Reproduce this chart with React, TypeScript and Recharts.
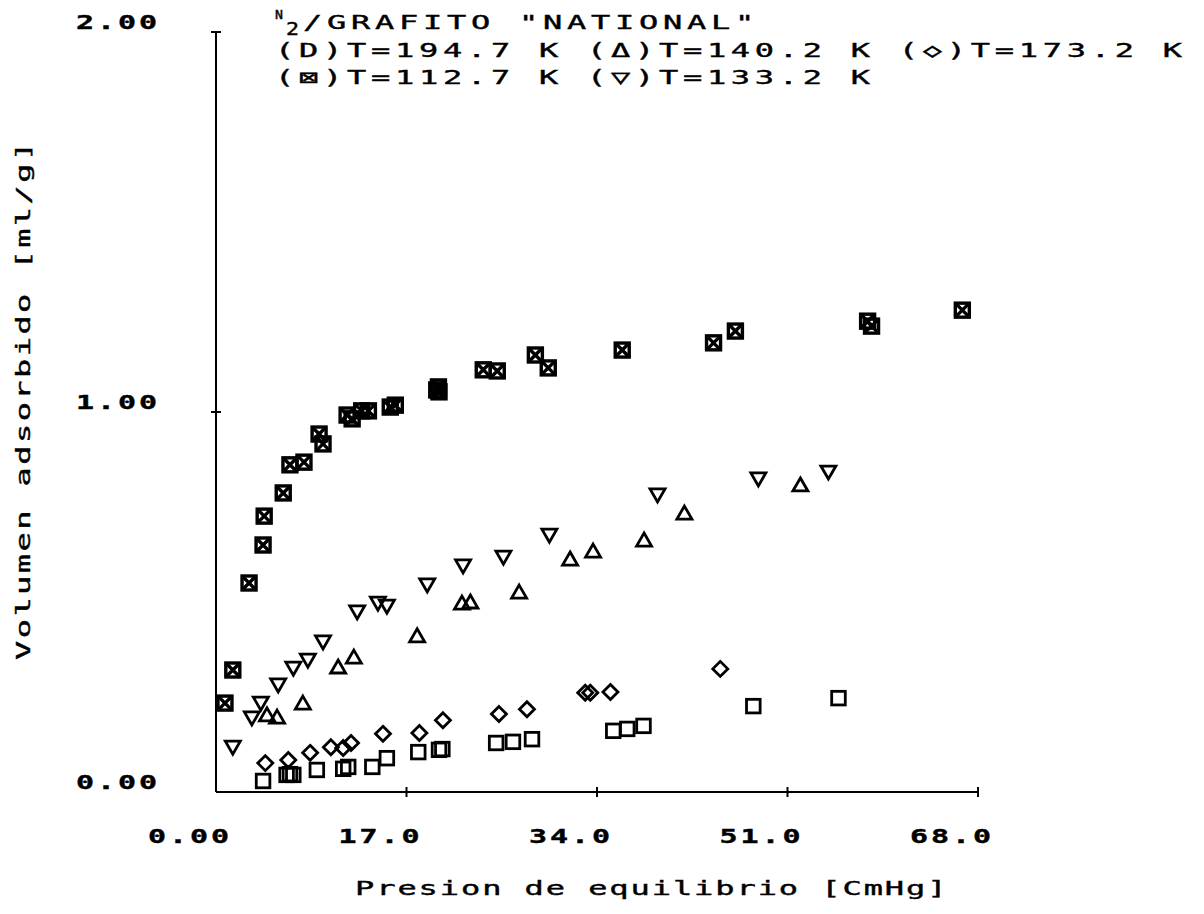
import React from 'react';
import { ScatterChart, Scatter, XAxis, YAxis } from 'recharts';

const FONT = '"DejaVu Sans Mono", "Liberation Mono", monospace';

// ---- axis ticks ----
const xTicks = [0, 17, 34, 51, 68];
const xTickLabels = ['0.00', '17.0', '34.0', '51.0', '68.0'];
const yTicks = [0, 1, 2];
const yTickLabels = ['0.00', '1.00', '2.00'];

// ---- texts ----
const titleSub = ['N', '2'];
const titleRest = '/GRAFITO "NATIONAL"';
const legendLine1 = '(D)T=194.7 K (Δ)T=140.2 K (◇)T=173.2 K';
const legendLine2 = '(⊠)T=112.7 K (▽)T=133.2 K';
const xTitle = 'Presion de equilibrio [CmHg]';
const yTitle = 'Volumen adsorbido [ml/g]';

// ---- series: T = 112.7 K (boxed X) ----
const t112x = [0.8, 1.5, 2.95, 4.2, 4.3, 6.0, 6.6, 7.85, 9.2, 9.55, 11.7, 12.15, 13.0, 13.6, 15.55, 16.0, 19.7, 19.85, 19.9, 23.85, 25.1, 28.5, 29.65, 36.25, 44.4, 46.35, 58.15, 58.5, 66.6];
const t112y = [0.234, 0.321, 0.55, 0.65, 0.726, 0.787, 0.861, 0.868, 0.942, 0.916, 0.992, 0.982, 1.003, 1.003, 1.013, 1.018, 1.058, 1.066, 1.053, 1.111, 1.108, 1.15, 1.116, 1.163, 1.182, 1.213, 1.239, 1.226, 1.268];

// ---- series: T = 133.2 K (down triangle) ----
const t133x = [1.5, 3.2, 4.0, 5.55, 6.9, 8.2, 9.55, 12.6, 14.45, 15.25, 18.85, 22.05, 25.65, 29.75, 39.4, 48.4, 54.65];
const t133y = [0.118, 0.195, 0.234, 0.282, 0.326, 0.347, 0.395, 0.474, 0.497, 0.489, 0.545, 0.595, 0.618, 0.676, 0.782, 0.824, 0.842];

// ---- series: T = 140.2 K (up triangle) ----
const t140x = [4.55, 5.45, 7.75, 10.9, 12.3, 17.95, 21.95, 22.7, 27.05, 31.6, 33.65, 38.2, 41.8, 52.15];
const t140y = [0.203, 0.197, 0.234, 0.329, 0.355, 0.411, 0.497, 0.5, 0.526, 0.613, 0.634, 0.663, 0.734, 0.808];

// ---- series: T = 173.2 K (diamond) ----
const t173x = [4.4, 6.45, 8.4, 10.25, 11.35, 12.05, 14.9, 18.15, 20.25, 25.25, 27.75, 32.95, 33.4, 35.2, 45.0];
const t173y = [0.076, 0.084, 0.103, 0.118, 0.116, 0.129, 0.153, 0.155, 0.189, 0.205, 0.218, 0.261, 0.261, 0.263, 0.324];

// ---- series: T = 194.7 K (open square) ----
const t194x = [4.2, 6.3, 6.6, 6.9, 9.0, 11.35, 11.8, 13.95, 15.25, 18.05, 19.9, 20.2, 25.0, 26.5, 28.2, 35.45, 36.7, 38.15, 47.95, 55.55];
const t194y = [0.029, 0.045, 0.047, 0.045, 0.058, 0.061, 0.066, 0.066, 0.089, 0.105, 0.111, 0.113, 0.129, 0.132, 0.139, 0.161, 0.166, 0.174, 0.226, 0.247];

const zip = (xs: number[], ys: number[]) => xs.map((x, i) => ({ x, y: ys[i] }));

const d112 = zip(t112x, t112y);
const d133 = zip(t133x, t133y);
const d140 = zip(t140x, t140y);
const d173 = zip(t173x, t173y);
const d194 = zip(t194x, t194y);

const INK = '#000';
const SW = 2.8;

// plotter-like text: monospace glyphs widened, fixed character pitch
const PText = (props: any) => {
  const { x, y, text, pitch, size = 20, sx = 1.6, weight = 'normal', rotate = false } = props;
  const adv = size * 0.602;
  const ls = pitch / sx - adv;
  const transform = rotate
    ? `translate(${x},${y}) rotate(-90) scale(${sx},1)`
    : `translate(${x},${y}) scale(${sx},1)`;
  return (
    <text transform={transform} x={0} y={0} fontFamily={FONT} fontSize={size} fontWeight={weight} letterSpacing={ls} fill={INK} stroke={INK} strokeWidth={0.4} style={{ whiteSpace: 'pre' }}>
      {text}
    </text>
  );
};

const BoxX = (p: any) => {
  const { cx, cy } = p;
  const h = 7;
  return (
    <g>
      <rect x={cx - h} y={cy - h} width={2 * h} height={2 * h} fill="none" stroke={INK} strokeWidth={3.4} />
      <path d={`M${cx - h},${cy - h}L${cx + h},${cy + h}M${cx + h},${cy - h}L${cx - h},${cy + h}`} stroke={INK} strokeWidth={3.4} />
    </g>
  );
};

const OpenSquare = (p: any) => {
  const { cx, cy } = p;
  const h = 6.8;
  return <rect x={cx - h} y={cy - h} width={2 * h} height={2 * h} fill="none" stroke={INK} strokeWidth={SW} />;
};

const UpTri = (p: any) => {
  const { cx, cy } = p;
  return <path d={`M${cx},${cy - 7}L${cx + 7.5},${cy + 6}L${cx - 7.5},${cy + 6}Z`} fill="none" stroke={INK} strokeWidth={SW} />;
};

const DownTri = (p: any) => {
  const { cx, cy } = p;
  return <path d={`M${cx - 7.5},${cy - 6}L${cx + 7.5},${cy - 6}L${cx},${cy + 7}Z`} fill="none" stroke={INK} strokeWidth={SW} />;
};

const Diamond = (p: any) => {
  const { cx, cy } = p;
  return <path d={`M${cx},${cy - 7.5}L${cx + 7.5},${cy}L${cx},${cy + 7.5}L${cx - 7.5},${cy}Z`} fill="none" stroke={INK} strokeWidth={SW} />;
};

const XTick = (props: any) => {
  const { x, y, payload } = props;
  const i = xTicks.indexOf(payload.value);
  const label = i >= 0 ? xTickLabels[i] : String(payload.value);
  return (
    <g>
      {payload.value !== 0 && <line x1={x} x2={x} y1={y - 5} y2={y + 5} stroke={INK} strokeWidth={2} />}
      <PText x={x - 68} y={y + 51} text={label} pitch={21} weight="bold" sx={1.5} />
    </g>
  );
};

const YTick = (props: any) => {
  const { x, y, payload } = props;
  const i = yTicks.indexOf(payload.value);
  const label = i >= 0 ? yTickLabels[i] : String(payload.value);
  return (
    <g>
      {payload.value !== 0 && <line x1={x - 5} x2={x + 5} y1={y} y2={y} stroke={INK} strokeWidth={2} />}
      <PText x={x - 140} y={y - 3} text={label} pitch={21} weight="bold" sx={1.5} />
    </g>
  );
};

export default function App() {
  const tp = 24;
  return (
    <div style={{ position: 'absolute', left: 0, top: 0, width: 1204, height: 914, background: '#fff' }}>
      <ScatterChart width={1204} height={914} margin={{ top: 32, right: 226, bottom: 92, left: 156 }}>
        <XAxis
          type="number"
          dataKey="x"
          domain={[0, 68]}
          ticks={xTicks}
          interval={0}
          height={30}
          tickSize={0}
          tickMargin={0}
          tickLine={false}
          axisLine={{ stroke: INK, strokeWidth: 2 }}
          tick={(p: any) => <XTick {...p} />}
          allowDataOverflow
        />
        <YAxis
          type="number"
          dataKey="y"
          domain={[0, 2]}
          ticks={yTicks}
          interval={0}
          width={60}
          tickSize={0}
          tickMargin={0}
          tickLine={false}
          axisLine={{ stroke: INK, strokeWidth: 2 }}
          tick={(p: any) => <YTick {...p} />}
          allowDataOverflow
        />
        <Scatter name="T=194.7 K" data={d194} shape={(p: any) => <OpenSquare {...p} />} isAnimationActive={false} />
        <Scatter name="T=173.2 K" data={d173} shape={(p: any) => <Diamond {...p} />} isAnimationActive={false} />
        <Scatter name="T=140.2 K" data={d140} shape={(p: any) => <UpTri {...p} />} isAnimationActive={false} />
        <Scatter name="T=133.2 K" data={d133} shape={(p: any) => <DownTri {...p} />} isAnimationActive={false} />
        <Scatter name="T=112.7 K" data={d112} shape={(p: any) => <BoxX {...p} />} isAnimationActive={false} />
      </ScatterChart>
      <svg width={1204} height={914} style={{ position: 'absolute', left: 0, top: 0, pointerEvents: 'none' }}>
        <PText x={275} y={19} text={titleSub[0]} pitch={12} size={12} sx={1.1} />
        <PText x={286} y={35} text={titleSub[1]} pitch={16} size={18} sx={1.2} />
        <PText x={303} y={29} text={titleRest} pitch={tp} />
        <PText x={275} y={57} text={legendLine1} pitch={tp} />
        <PText x={275} y={84} text={legendLine2} pitch={tp} />
        <PText x={355} y={895} text={xTitle} pitch={21.2} />
        <PText x={30} y={660} text={yTitle} pitch={21.7} rotate />
      </svg>
    </div>
  );
}
